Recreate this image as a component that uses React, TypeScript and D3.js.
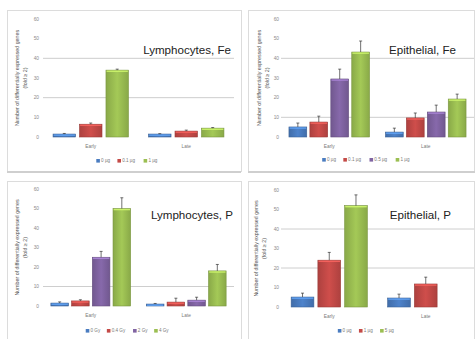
import * as d3 from "d3";

// ---- data ----
const groups = ["Early", "Late"];

const lymFeSeries = ["0 µg", "0.1 µg", "1 µg"];
const lymFeColors = ["blue", "red", "green"];
const lymFeEarly = [1.5, 6.5, 34];
const lymFeLate = [1.5, 3, 4.5];
const lymFeEarlyErr = [0.3, 0.6, 0.5];
const lymFeLateErr = [0.2, 0.5, 0.3];
const lymFeGrid = [20, 40];

const epiFeSeries = ["0 µg", "0.1 µg", "0.5 µg", "1 µg"];
const epiFeColors = ["blue", "red", "purple", "green"];
const epiFeEarly = [5.1, 7.6, 29.5, 43.2];
const epiFeLate = [2.5, 9.7, 12.7, 19.3];
const epiFeEarlyErr = [2, 3, 5, 5.6];
const epiFeLateErr = [2, 2.5, 3.5, 2.5];
const epiFeGrid = [10, 40];

const lymPSeries = ["0 Gy", "0.4 Gy", "2 Gy", "4 Gy"];
const lymPColors = ["blue", "red", "purple", "green"];
const lymPEarly = [1.5, 2.6, 25, 50];
const lymPLate = [1, 2, 3, 18];
const lymPEarlyErr = [0.6, 0.6, 3, 5.5];
const lymPLateErr = [0.3, 2, 1.5, 3.3];
const lymPGrid = [10];

const epiPSeries = ["0 µg", "1 µg", "5 µg"];
const epiPColors = ["blue", "red", "green"];
const epiPEarly = [5.1, 24, 52];
const epiPLate = [4.6, 11.8, null];
const epiPEarlyErr = [2, 4, 5.5];
const epiPLateErr = [2, 3.5, null];
const epiPGrid = [20, 40];

const yTicks = [0, 10, 20, 30, 40, 50, 60];
const yTitle1 = "Number of differentially expressed genes";
const yTitle2 = "(fold ≥ 2)";

const palette: Record<string, string> = {
  blue: "#4a7cc0",
  red: "#c44a47",
  purple: "#8064a2",
  green: "#9bbf52",
};

const font = "Liberation Sans, Arial, sans-serif";

type PanelProps = {
  title: string;
  series: string[];
  colors: string[];
  early: (number | null)[];
  late: (number | null)[];
  earlyErr: (number | null)[];
  lateErr: (number | null)[];
  grid: number[];
  box: [number, number, number, number];
  xRange: [number, number];
  yRange: [number, number];
  tickX: number;
  titleX: [number, number];
  titleEnd: number;
  titleY: number;
  catY: number;
  legendY: number;
};

function Panel(p: PanelProps) {
  const x0 = d3.scaleBand().domain(groups).range(p.xRange).padding(0);
  const x1 = d3
    .scaleBand()
    .domain(p.series)
    .range([0, x0.bandwidth()])
    .paddingInner(0.15)
    .paddingOuter(0.38);
  const y = d3.scaleLinear().domain([0, 60]).range(p.yRange);
  const [bx0, by0, bx1, by1] = p.box;
  const cy = (p.yRange[0] + p.yRange[1]) / 2;

  const rows = [
    { g: "Early", vals: p.early, errs: p.earlyErr },
    { g: "Late", vals: p.late, errs: p.lateErr },
  ];

  // legend layout
  const fs = 4.6;
  const itemW = p.series.map((s) => 6 + s.length * fs * 0.55 + 5);
  const totalW = d3.sum(itemW);
  const legendStart = (p.xRange[0] + p.xRange[1]) / 2 - totalW / 2 - 8;
  let acc = legendStart;
  const legendPos = itemW.map((w) => {
    const v = acc;
    acc += w;
    return v;
  });

  return (
    <g>
      <rect x={bx0 + 0.5} y={by0 + 0.5} width={bx1 - bx0} height={by1 - by0} fill="#fff" stroke="#dcdcdc" strokeWidth={1} />
      {p.grid.map((g) => (
        <line key={g} x1={p.xRange[0]} x2={p.xRange[1]} y1={y(g)} y2={y(g)} stroke="#c8c8c8" strokeWidth={0.9} />
      ))}
      {yTicks.map((t) => (
        <text key={t} x={p.tickX} y={y(t) + 1.6} fontSize={4.8} fill="#8a8a8a" textAnchor="end" fontFamily={font}>
          {t}
        </text>
      ))}
      <g transform={`translate(${p.titleX[0]},${cy}) rotate(-90)`}>
        <text textAnchor="middle" fontSize={5.3} fill="#555" fontFamily={font}>
          {yTitle1}
        </text>
      </g>
      <g transform={`translate(${p.titleX[1]},${cy}) rotate(-90)`}>
        <text textAnchor="middle" fontSize={5.3} fill="#555" fontFamily={font}>
          {yTitle2}
        </text>
      </g>
      {rows.map((r) =>
        r.vals.map((v, i) => {
          if (v == null) return null;
          const col = palette[p.colors[i]];
          const bx = (x0(r.g) ?? 0) + (x1(p.series[i]) ?? 0);
          const bw = x1.bandwidth();
          const top = y(v);
          const base = y(0);
          const e = r.errs[i] ?? 0;
          const et = y(v + e);
          const cx = bx + bw / 2;
          return (
            <g key={r.g + i}>
              <rect x={bx} y={top} width={bw} height={base - top} fill={`url(#grad-${p.colors[i]})`} stroke={d3.color(col)!.darker(0.7).toString()} strokeWidth={0.6} />
              <rect x={bx + 0.6} y={top + 0.4} width={bw - 1.2} height={1.4} fill={d3.color(col)!.brighter(0.9).toString()} opacity={0.8} />
              {e > 0 && (
                <g stroke="#333" strokeWidth={0.7}>
                  <line x1={cx} x2={cx} y1={top} y2={et} />
                  <line x1={cx - 1.5} x2={cx + 1.5} y1={et} y2={et} />
                </g>
              )}
            </g>
          );
        })
      )}
      {groups.map((g) => (
        <text key={g} x={(x0(g) ?? 0) + x0.bandwidth() / 2} y={p.catY} fontSize={4.8} fill="#7a7a7a" textAnchor="middle" fontFamily={font}>
          {g}
        </text>
      ))}
      {p.series.map((s, i) => (
        <g key={s} transform={`translate(${legendPos[i]},${p.legendY})`}>
          <rect x={0} y={-2} width={3.6} height={3.6} fill={palette[p.colors[i]]} />
          <text x={4.8} y={1.4} fontSize={fs} fill="#7a7a7a" fontFamily={font}>
            {s}
          </text>
        </g>
      ))}
      <text x={p.titleEnd} y={p.titleY} fontSize={11.6} fill="#222" textAnchor="end" fontFamily={font}>
        {p.title}
      </text>
    </g>
  );
}

export default function App() {
  return (
    <svg width={475} height={339} style={{ position: "absolute", left: 0, top: 0, background: "#fff" }}>
      <defs>
        {Object.entries(palette).map(([k, c]) => (
          <linearGradient key={k} id={`grad-${k}`} x1="0" x2="1" y1="0" y2="0">
            <stop offset="0" stopColor={d3.color(c)!.darker(0.35).toString()} />
            <stop offset="0.5" stopColor={d3.color(c)!.brighter(0.15).toString()} />
            <stop offset="1" stopColor={d3.color(c)!.darker(0.35).toString()} />
          </linearGradient>
        ))}
      </defs>
      <rect x={0} y={0} width={475} height={339} fill="#fff" />
      <Panel
        title="Lymphocytes, Fe"
        series={lymFeSeries}
        colors={lymFeColors}
        early={lymFeEarly}
        late={lymFeLate}
        earlyErr={lymFeEarlyErr}
        lateErr={lymFeLateErr}
        grid={lymFeGrid}
        box={[7, 10, 241, 171]}
        xRange={[43, 234]}
        yRange={[137, 19]}
        tickX={39}
        titleX={[19, 27]}
        titleEnd={231}
        titleY={54}
        catY={148}
        legendY={161}
      />
      <Panel
        title="Epithelial, Fe"
        series={epiFeSeries}
        colors={epiFeColors}
        early={epiFeEarly}
        late={epiFeLate}
        earlyErr={epiFeEarlyErr}
        lateErr={epiFeLateErr}
        grid={epiFeGrid}
        box={[248, 10, 474, 171]}
        xRange={[281, 474]}
        yRange={[137, 19]}
        tickX={279}
        titleX={[261, 269]}
        titleEnd={456}
        titleY={54}
        catY={148}
        legendY={160}
      />
      <Panel
        title="Lymphocytes, P"
        series={lymPSeries}
        colors={lymPColors}
        early={lymPEarly}
        late={lymPLate}
        earlyErr={lymPEarlyErr}
        lateErr={lymPLateErr}
        grid={lymPGrid}
        box={[7, 181, 241, 345]}
        xRange={[43, 234]}
        yRange={[306, 189]}
        tickX={39}
        titleX={[19, 27]}
        titleEnd={233}
        titleY={219}
        catY={317}
        legendY={331}
      />
      <Panel
        title="Epithelial, P"
        series={epiPSeries}
        colors={epiPColors}
        early={epiPEarly}
        late={epiPLate}
        earlyErr={epiPEarlyErr}
        lateErr={epiPLateErr}
        grid={epiPGrid}
        box={[248, 181, 474, 345]}
        xRange={[281, 474]}
        yRange={[307, 190]}
        tickX={279}
        titleX={[258, 266]}
        titleEnd={451}
        titleY={219}
        catY={318}
        legendY={331}
      />
      <line x1={7} x2={241} y1={172} y2={172} stroke="#cfcfcf" strokeWidth={2} />
      <line x1={248} x2={475} y1={172} y2={172} stroke="#cfcfcf" strokeWidth={2} />
    </svg>
  );
}
